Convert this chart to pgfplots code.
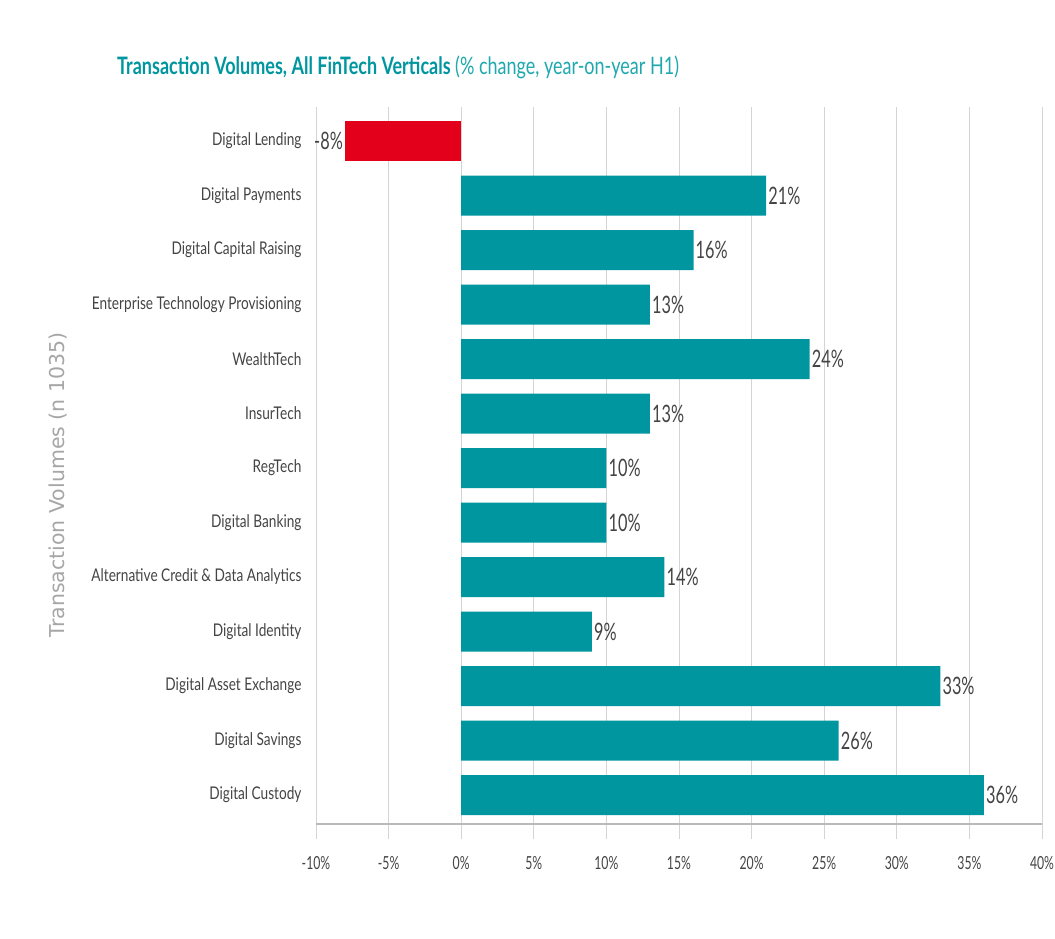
\documentclass[border=0pt]{standalone}
\usepackage{fontspec}
\setmainfont{Lato}[FakeStretch=0.78]
\newfontfamily\titlefont{Lato}[FakeStretch=0.75]
\newfontfamily\valfont{Lato}[FakeStretch=0.68]
\newfontfamily\ylabfont{DejaVu Sans}
\usepackage{pgfplots}
\pgfplotsset{compat=1.18}
\definecolor{teal1}{HTML}{00969F}
\definecolor{teal2}{HTML}{1FA8AD}
\definecolor{red1}{HTML}{E2001A}
\definecolor{gridc}{HTML}{D4D4D4}
\definecolor{txt}{HTML}{444444}
\begin{document}
\begin{tikzpicture}
\begin{axis}[
  at={(316pt,-107pt)}, anchor=north west,
  scale only axis, width=726pt, height=717pt,
  xbar, bar width=40pt, bar shift=0pt,
  xmin=-10, xmax=40,
  ymin=-0.624, ymax=12.532, y dir=reverse,
  xtick={-10,-5,...,40},
  ytick={0,...,12},
  yticklabels={Digital Lending, Digital Payments, Digital Capital Raising, Enterprise Technology Provisioning, WealthTech, InsurTech, RegTech, Digital Banking, Alternative Credit \& Data Analytics, Digital Identity, Digital Asset Exchange, Digital Savings, Digital Custody},
  yticklabel style={font=\fontsize{17.5}{19}\selectfont, text=txt, xshift=4pt},
  xticklabel={\pgfmathprintnumber{\tick}\%},
  xticklabel style={font=\valfont\fontsize{18}{20}\selectfont, text=txt, yshift=-14pt},
  /pgf/number format/assume math mode=true,
  axis x line*=bottom, axis y line*=left,
  x axis line style={draw=gray!55, line width=1.6pt, -},
  y axis line style={draw=none},
  ytick style={draw=none},
  xtick style={draw=gridc, line width=1pt},
  xtick align=outside, major tick length=15pt,
  xmajorgrids, grid style={draw=gridc, line width=1pt},
  nodes near coords={\pgfmathprintnumber{\pgfplotspointmeta}\%},
  nodes near coords style={font=\valfont\fontsize{24}{26}\selectfont, text=txt, inner sep=2pt},
  clip=false,
]
\addplot[fill=red1, draw=none] coordinates {(-8,0)};
\addplot[fill=teal1, draw=none] coordinates {
(21,1) (16,2) (13,3) (24,4) (13,5) (10,6) (10,7) (14,8) (9,9) (33,10) (26,11) (36,12)};
\end{axis}
\node[anchor=west, inner sep=0pt, font=\titlefont\fontsize{24}{26}\selectfont] at (117pt,-67pt)
  {\textcolor{teal1}{\textbf{Transaction Volumes, All FinTech Verticals}} \textcolor{teal2}{(\% change, year-on-year H1)}};
\node[rotate=90, inner sep=0pt, font=\ylabfont\fontsize{20.5}{22}\selectfont, text=gray!70] at (58pt,-485pt)
  {Transaction Volumes (n 1035)};
\pgfresetboundingbox
\path (0pt,0pt) rectangle (1055pt,-938pt);
\end{tikzpicture}
\end{document}
